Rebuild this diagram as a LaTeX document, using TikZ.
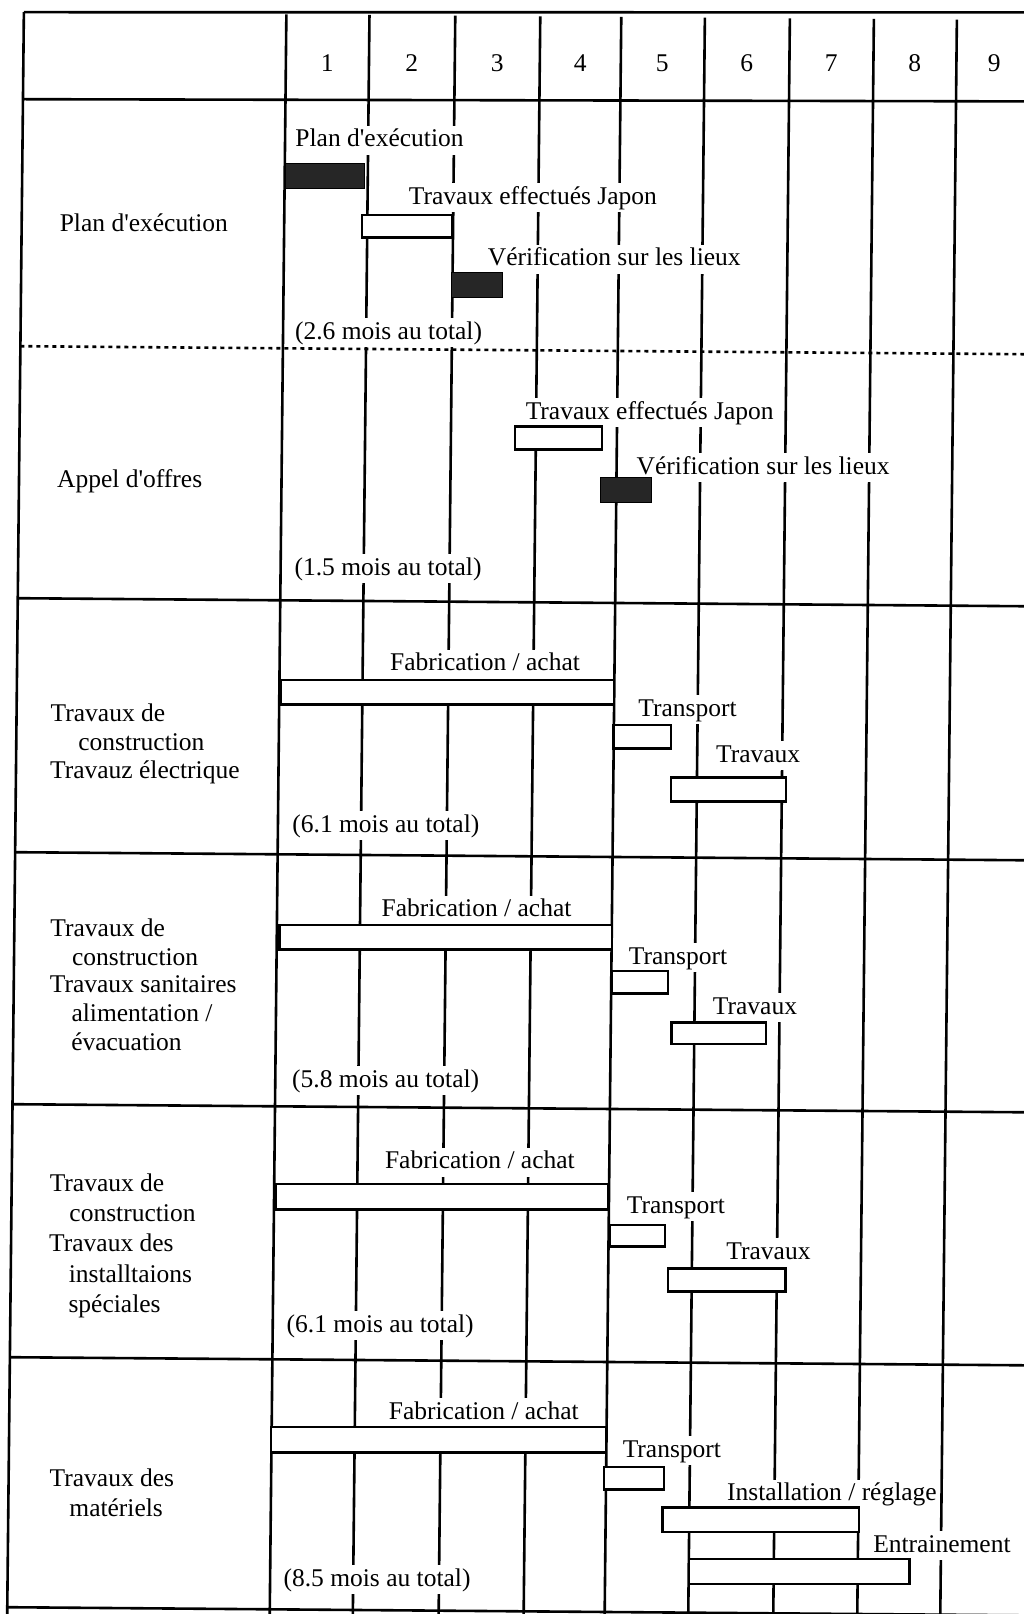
\documentclass[tikz,border=0pt]{standalone}
\usepackage{fontspec}
\setmainfont{Liberation Serif}
\newcommand\fsz{\fontsize{25.5}{30}\selectfont}
\newcommand\apos{\textquotesingle}
\tikzset{
  gridline/.style={line width=2.6pt, black},
  sepline/.style={line width=2.6pt, black},
  dotsep/.style={line width=2.6pt, black, dash pattern=on 4pt off 4pt},
  lab/.style={fill=white, inner xsep=3pt, inner ysep=2pt, anchor=base, font=\fsz, text height=19pt, text depth=6pt},
  rowlab/.style={anchor=base west, inner sep=0pt, font=\fsz},
  num/.style={anchor=base, inner sep=0pt, font=\fsz},
  wbar/.style={draw, fill=white, line width=2.4pt},
  bbar/.style={draw, fill=black!85, line width=1pt},
}
\begin{document}
\begin{tikzpicture}[x={(1pt,-0.008pt)}, y={(-0.0104pt,-1pt)}]
\useasboundingbox (0pt,0pt) rectangle (1024pt,-1614pt);
\fill[white] (0pt,0pt) rectangle (1024pt,-1614pt);
\clip (0pt,0pt) rectangle (1024pt,-1614pt);

% vertical grid lines
\foreach \cx in {24, 286.5, 369.6, 455.4, 540.4, 621.4, 705, 790, 874, 957}
  \draw[gridline] (\cx,12) -- (\cx,1640);

% header numbers
\node[num] (n1) at (328,68.5) {1};
\node[num] (n2) at (412.5,67.8) {2};
\node[num] (n3) at (498,67.1) {3};
\node[num] (n4) at (581,66.5) {4};
\node[num] (n5) at (663,65.8) {5};
\node[num] (n6) at (747.5,65.1) {6};
\node[num] (n7) at (832,64.5) {7};
\node[num] (n8) at (915.5,63.8) {8};
\node[num] (n9) at (995,63.2) {9};

% row labels
\node[rowlab] (r1) at (62,231) {Plan d\apos exécution};
\node[rowlab] (r2) at (62,487) {Appel d\apos offres};
\node[rowlab] (r3a) at (58,721) {Travaux de};
\node[rowlab] (r3b) at (86,750) {construction};
\node[rowlab] (r3c) at (58,778) {Travauz électrique};
\node[rowlab] (r4a) at (60,936) {Travaux de};
\node[rowlab] (r4b) at (82,964.5) {construction};
\node[rowlab] (r4c) at (60,992.5) {Travaux sanitaires};
\node[rowlab] (r4d) at (82,1021) {alimentation /};
\node[rowlab] (r4e) at (82,1049.5) {évacuation};
\node[rowlab] (r5a) at (62,1191) {Travaux de};
\node[rowlab] (r5b) at (82,1221) {construction};
\node[rowlab] (r5c) at (62,1251) {Travaux des};
\node[rowlab] (r5d) at (82,1282) {installtaions};
\node[rowlab] (r5e) at (82,1312) {spéciales};
\node[rowlab] (r6a) at (65,1486) {Travaux des};
\node[rowlab] (r6b) at (85,1516) {matériels};

% row 1 labels
\node[lab] (p1a) at (381,143.5) {Plan d\apos exécution};
\node[lab] (p1b) at (535,200) {Travaux effectués Japon};
\node[lab] (p1c) at (617,261) {Vérification sur les lieux};
\node[lab] (p1t) at (392,336) {(2.6 mois au total)};
% row 2 labels
\node[lab] (p2b) at (654,414) {Travaux effectués Japon};
\node[lab] (p2c) at (768,468) {Vérification sur les lieux};
\node[lab] (p2t) at (394,572) {(1.5 mois au total)};
% row 3 labels
\node[lab] (f3) at (492,667) {Fabrication / achat};
\node[lab] (t3) at (695,710.5) {Transport};
\node[lab] (w3) at (766,756) {Travaux};
\node[lab] (s3) at (394.5,829) {(6.1 mois au total)};
% row 4 labels
\node[lab] (f4) at (486,913) {Fabrication / achat};
\node[lab] (t4) at (688,958.5) {Transport};
\node[lab] (w4) at (765.5,1008) {Travaux};
\node[lab] (s4) at (397,1084) {(5.8 mois au total)};
% row 5 labels
\node[lab] (f5) at (492,1165) {Fabrication / achat};
\node[lab] (t5) at (688.5,1207.5) {Transport};
\node[lab] (w5) at (781.5,1253) {Travaux};
\node[lab] (s5) at (394,1329) {(6.1 mois au total)};
% row 6 labels
\node[lab] (f6) at (498.5,1415) {Fabrication / achat};
\node[lab] (t6) at (687,1451.5) {Transport};
\node[lab] (i6) at (847.5,1494) {Installation / réglage};
\node[lab] (e6) at (958,1544.5) {Entrainement};
\node[lab] (s6) at (393.5,1583) {(8.5 mois au total)};

% horizontal lines
\draw[sepline] (24,12) -- (1060,3.9);
\draw[sepline] (24,99) -- (1060,93);
\draw[dotsep] (24,346) -- (1060,346);
\draw[sepline] (24,598) -- (1060,598);
\draw[sepline] (24,852) -- (1060,852);
\draw[sepline] (24,1104) -- (1060,1104);
\draw[sepline] (24,1357) -- (1060,1357);
\draw[sepline] (24,1607) -- (1060,1607);

% bars row 1
\draw[bbar] (287,161.5) rectangle (366,185.5);
\draw[wbar] (364,212) rectangle (455,234);
\draw[bbar] (454,269) rectangle (506,293);
% bars row 2
\draw[wbar] (519.5,422.5) rectangle (606.5,444.5);
\draw[bbar] (605,473) rectangle (657,497);
% bars row 3
\draw[wbar] (288,677.5) rectangle (621,699.5);
\draw[wbar] (621,720) rectangle (679,743);
\draw[wbar] (679,772) rectangle (794,795);
% bars row 4
\draw[wbar] (289,922.5) rectangle (622,944.5);
\draw[wbar] (622,966) rectangle (678,988);
\draw[wbar] (682,1017) rectangle (777,1038);
% bars row 5
\draw[wbar] (288,1181.5) rectangle (621,1204.5);
\draw[wbar] (622,1220) rectangle (678,1241);
\draw[wbar] (681,1263) rectangle (799,1285);
% bars row 6
\draw[wbar] (286,1424.5) rectangle (621,1447.5);
\draw[wbar] (619.5,1462) rectangle (679.5,1484);
\draw[wbar] (678,1502) rectangle (875,1525);
\draw[wbar] (705,1553.5) rectangle (926,1576.5);
\end{tikzpicture}
\end{document}
